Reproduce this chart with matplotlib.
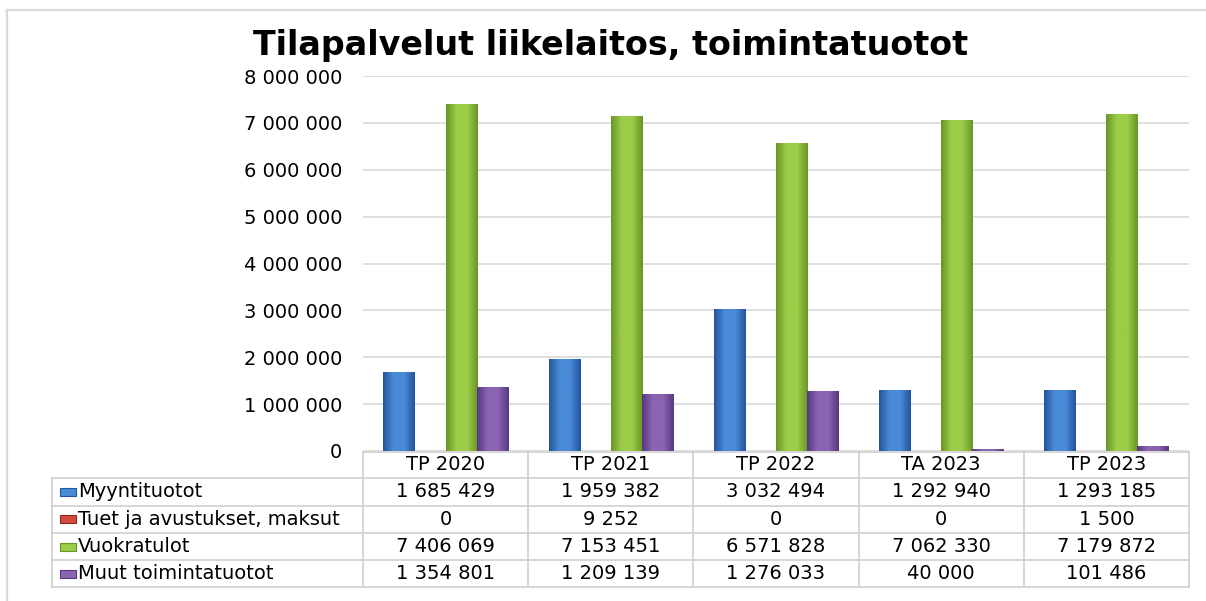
import numpy as np
import matplotlib
matplotlib.use("Agg")
import matplotlib.pyplot as plt
import matplotlib.transforms as mtransforms
from matplotlib.colors import LinearSegmentedColormap
from matplotlib.lines import Line2D
from matplotlib.patches import Rectangle
from matplotlib.ticker import FuncFormatter

categories = ["TP 2020", "TP 2021", "TP 2022", "TA 2023", "TP 2023"]
series_names = ["Myyntituotot", "Tuet ja avustukset, maksut", "Vuokratulot", "Muut toimintatuotot"]
myyntituotot = [1685429, 1959382, 3032494, 1292940, 1293185]
tuet = [0, 9252, 0, 0, 1500]
vuokratulot = [7406069, 7153451, 6571828, 7062330, 7179872]
muut = [1354801, 1209139, 1276033, 40000, 101486]
series = [myyntituotot, tuet, vuokratulot, muut]

# (edge, middle) shades for the bevelled bars
shades = [("#24559a", "#4a8bd8"),
          ("#8c2a20", "#d24a3c"),
          ("#6a9528", "#9ccd48"),
          ("#573a7e", "#8b64b4")]

W, H = 1206, 601
GRID = "#d9d9d9"
FS = 14


def fmt(v):
    return f"{v:,.0f}".replace(",", " ")


def fy(p):
    return 1 - p / H


def draw_bars(ax):
    x = np.arange(len(categories))
    w = 0.188
    for k, vals in enumerate(series):
        dark, light = shades[k]
        cmap = LinearSegmentedColormap.from_list("b", [dark, light, light, dark])
        bars = ax.bar(x + (k - 1.5) * w, vals, w, color=light, linewidth=0, zorder=3)
        for b in bars:
            if b.get_height() <= 0:
                continue
            grad = np.linspace(0, 1, 64).reshape(1, -1)
            im = ax.imshow(grad, extent=[b.get_x(), b.get_x() + b.get_width(), 0, b.get_height()],
                           cmap=cmap, aspect="auto", zorder=3.5, interpolation="bicubic")
            im.set_clip_path(b)


def draw_table(fig, ax):
    tr = mtransforms.blended_transform_factory(ax.transData, fig.transFigure)
    rows = [452, 478, 505.5, 533, 560, 587]
    n = len(categories)
    left = -0.5 - (363 - 52) / 165.2
    kw = dict(color="#cfcfcf", lw=1.2, transform=tr, clip_on=False)
    # horizontal lines
    fig.add_artist(Line2D([-0.5, n - 0.5], [fy(rows[0])] * 2, **kw))
    for p in rows[1:]:
        fig.add_artist(Line2D([left, n - 0.5], [fy(p)] * 2, **kw))
    # vertical lines
    for i in range(n + 1):
        fig.add_artist(Line2D([i - 0.5] * 2, [fy(rows[0]), fy(rows[-1])], **kw))
    fig.add_artist(Line2D([left] * 2, [fy(rows[1]), fy(rows[-1])], **kw))

    yh = fy((rows[0] + rows[1]) / 2)
    for i, c in enumerate(categories):
        fig.text(i, yh, c, transform=tr, ha="center", va="center", fontsize=FS)

    for r, (name, vals) in enumerate(zip(series_names, series)):
        yc = fy((rows[r + 1] + rows[r + 2]) / 2)
        dark, light = shades[r]
        fig.add_artist(Rectangle((60 / W, yc - 4 / H), 16 / W, 8 / H, transform=fig.transFigure,
                                 facecolor=light, edgecolor=dark, lw=0.8))
        fig.text(78 / W, yc, name, ha="left", va="center", fontsize=FS)
        for i, v in enumerate(vals):
            fig.text(i, yc, fmt(v), transform=tr, ha="center", va="center", fontsize=FS)


def main():
    fig = plt.figure(figsize=(W / 100, H / 100), dpi=100)
    ax = fig.add_axes([363 / W, fy(451), 826 / W, (451 - 76) / H])

    draw_bars(ax)

    ax.set_xlim(-0.5, len(categories) - 0.5)
    ax.set_ylim(0, 8000000)
    ax.set_yticks(np.arange(0, 8000001, 1000000))
    ax.yaxis.set_major_formatter(FuncFormatter(lambda v, p: fmt(v)))
    ax.tick_params(axis="y", length=0, pad=15, labelsize=FS)
    ax.set_xticks([])
    for s in ax.spines.values():
        s.set_visible(False)
    ax.grid(axis="y", color=GRID, lw=1.2, zorder=0)
    ax.set_axisbelow(True)

    draw_table(fig, ax)

    fig.text(611 / W, fy(55), "Tilapalvelut liikelaitos, toimintatuotot",
             ha="center", va="baseline", fontsize=24, fontweight="bold")

    # outer chart frame (top and left edges only)
    fig.add_artist(Line2D([7 / W, 1], [fy(10)] * 2, color=GRID, lw=1.6))
    fig.add_artist(Line2D([7 / W] * 2, [fy(10), 0], color=GRID, lw=1.6))

    fig.savefig("out.png", dpi=100)


if __name__ == "__main__":
    main()
